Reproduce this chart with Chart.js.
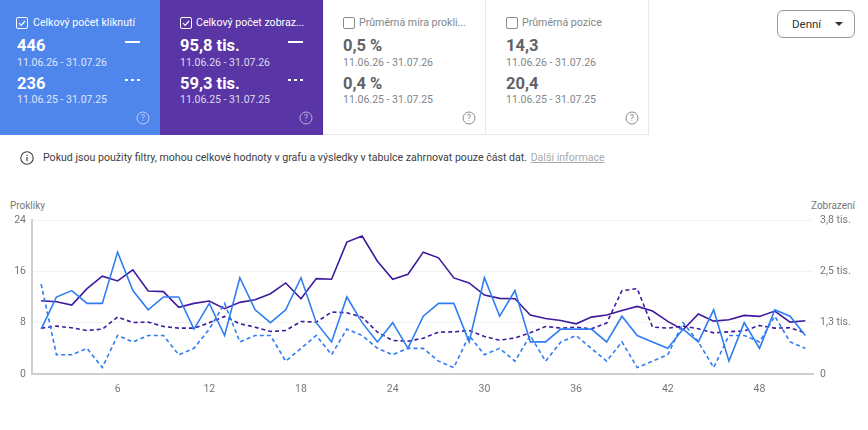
<!DOCTYPE html>
<html lang="cs">
<head>
<meta charset="utf-8">
<title>Výkon</title>
<script src="https://cdn.jsdelivr.net/npm/chart.js@4"></script>
<style>
  html, body { margin: 0; padding: 0; background: #fff; }
  body { width: 868px; height: 430px; position: relative; overflow: hidden; font-family: Roboto, sans-serif; }
  .card { position: absolute; top: 0; height: 135px; box-sizing: border-box; color: #5f6368; }
  .card.on { color: #fff; }
  .card.off { border-right: 1px solid #e8e8e8; border-bottom: 1px solid #e8e8e8; }
  .card span, .card i, .card svg { position: absolute; white-space: nowrap; font-style: normal; }
  .title { top: 14.5px; font-size: 10.6px; line-height: 16px; }
  .off .title { color: #80868b; }
  .num { font-size: 16.5px; font-weight: 700; line-height: 20px; }
  .date { font-size: 10.5px; line-height: 14px; opacity: .8; }
  .off .date { color: #80868b; opacity: 1; }
  .box { top: 17px; width: 10px; height: 10px; border: 1px solid #8a8a8a; border-radius: 2px; }
  .on .box { border-color: #fff; }
  .sw { width: 15px; height: 2px; background: #fff; }
  .sw.dash { background: repeating-linear-gradient(90deg, #fff 0 3px, transparent 3px 6px); }
  #note { position: absolute; left: 43px; top: 150px; font-size: 10.6px; line-height: 16px; color: #3c4043; white-space: nowrap; }
  #note a { color: #aaa; text-decoration: underline; margin-left: 1px; }
  #denni { position: absolute; left: 777px; top: 10px; width: 76px; height: 26px; border: 1px solid #9a9a9a; border-radius: 6px; font-size: 11.5px; line-height: 26px; color: #333; }
  #denni span { position: absolute; left: 14px; }
  #denni i { position: absolute; left: 57px; top: 11px; border: 4px solid transparent; border-top-color: #333; border-bottom: 0; }
  .axt { position: absolute; top: 200px; font-size: 10px; line-height: 12px; color: #777; }
  #wrap { position: absolute; left: 0; top: 191px; width: 868px; height: 239px; }
</style>
</head>
<body>
<div id="cards"></div>
<svg style="position:absolute;left:20px;top:151px" width="14" height="14" viewBox="0 0 14 14"><circle cx="7" cy="7" r="6.2" fill="none" stroke="#3c4043" stroke-width="1.1"/><rect x="6.4" y="6" width="1.2" height="4.2" fill="#3c4043"/><rect x="6.4" y="3.8" width="1.2" height="1.2" fill="#3c4043"/></svg>
<div id="note">Pokud jsou použity filtry, mohou celkové hodnoty v grafu a výsledky v tabulce zahrnovat pouze část dat. <a>Další informace</a></div>
<div id="denni"><span>Denní</span><i></i></div>
<div class="axt" style="left:10px">Prokliky</div>
<div class="axt" style="left:811px">Zobrazení</div>
<div id="wrap"><canvas id="chart" width="868" height="239"></canvas></div>

<script>
const days = [1,2,3,4,5,6,7,8,9,10,11,12,13,14,15,16,17,18,19,20,21,22,23,24,25,26,27,28,29,30,31,32,33,34,35,36,37,38,39,40,41,42,43,44,45,46,47,48,49,50,51]
const xTicks = [6,12,18,24,30,36,42,48]
const clickTicks = [0,8,16,24]
const viewTicks = [0,1267,2533,3800]
const viewTickLabels = ['0','1,3 tis.','2,5 tis.','3,8 tis.']

const clicksNow = [7,12,13,11,11,19,13,10,12,12,7,11,6,15,10,8,10,15,8,5,12,8,5,8,4,9,11,11,5,15,9,13,5,5,7,7,7,5,9,6,5,4,7,5,10,2,8,4,10,9,6]
const clicksPrev = [14,3,3,4,1,6,5,6,6,3,4,7,11,5,6,6,2,4,6,3,7,6,4,3,4,4,2,1,6,3,4,2,6,2,5,6,4,2,5,1,2,3,8,5,1,6,6,5,9,5,4]
const viewsNow = [1809,1784,1702,2106,2412,2296,2569,2048,2032,1644,1743,1801,1611,1768,1834,1982,2247,1858,2354,2338,3254,3403,2784,2338,2461,3007,2866,2371,2247,1949,1867,1858,1454,1371,1322,1239,1404,1454,1569,1669,1553,1297,1090,1479,1305,1338,1446,1421,1553,1280,1313]
const viewsPrev = [1132,1181,1140,1074,1107,1404,1272,1280,1173,1132,1132,1264,1421,1239,1156,1049,1074,1297,1280,1528,1512,1404,1033,826,810,884,1033,1041,1074,925,834,892,1016,1173,1132,1156,1115,1256,2057,2106,1156,1132,1181,1115,1016,1041,1066,1198,1132,1140,1016]

const cardTitles = ['Celkový počet kliknutí','Celkový počet zobraz...','Průměrná míra prokli...','Průměrná pozice']
const cardNow = ['446','95,8 tis.','0,5 %','14,3']
const cardPrev = ['236','59,3 tis.','0,4 %','20,4']
const cardLeft = [0,160,323,486]
const cardWidth = [160,163,163,163]
const cardBg = ['#4f86ec','#5935a6','#fff','#fff']
const rangeNow = '11.06.26 - 31.07.26'
const rangePrev = '11.06.25 - 31.07.25'

const helpIcon = (x, col) => `<svg style="left:${x}px;top:111px" width="14" height="14" viewBox="0 0 14 14"><circle cx="7" cy="7" r="6" fill="none" stroke="${col}" stroke-width="1"/><text x="7" y="10" font-size="9" text-anchor="middle" fill="${col}" font-family="Roboto">?</text></svg>`
const checkMark = '<svg style="left:0;top:0" width="10" height="10" viewBox="0 0 10 10"><path d="M2 5.2l2.2 2.2L8 3" fill="none" stroke="#fff" stroke-width="1.2"/></svg>'

document.getElementById('cards').innerHTML = cardTitles.map((title, i) => {
  const on = i < 2
  return `<div class="card ${on ? 'on' : 'off'}" style="left:${cardLeft[i]}px;width:${cardWidth[i]}px;background:${cardBg[i]}${i === 1 ? ';border-right:1px solid #4527a0' : ''}">
    <i class="box" style="left:${i === 0 ? 16 : 20}px">${on ? checkMark : ''}</i>
    <span class="title" style="left:${i === 0 ? 33 : 36}px">${title}</span>
    <span class="num" style="left:${i === 0 ? 17 : 20}px;top:36px">${cardNow[i]}</span>
    <span class="date" style="left:${i === 0 ? 17 : 20}px;top:56px">${rangeNow}</span>
    <span class="num" style="left:${i === 0 ? 17 : 20}px;top:74px">${cardPrev[i]}</span>
    <span class="date" style="left:${i === 0 ? 17 : 20}px;top:93px">${rangePrev}</span>
    ${on ? `<i class="sw" style="left:${i === 0 ? 125 : 128}px;top:41px"></i><i class="sw dash" style="left:${i === 0 ? 125 : 128}px;top:79px"></i>` : ''}
    ${helpIcon(i === 0 ? 136 : 139, on ? 'rgba(255,255,255,.6)' : '#8a8a8a')}
  </div>`
}).join('')

const series = (values) => values.map((v, i) => ({ x: days[i], y: v }))
const lineStyle = { borderWidth: 1.6, pointRadius: 0, tension: 0, fill: false }
const tickFont = { family: 'Roboto', size: 10.5 }

new Chart(document.getElementById('chart'), {
  type: 'line',
  data: {
    datasets: [
      { label: 'Prokliky', data: series(clicksNow), yAxisID: 'y', borderColor: '#2f7df0', ...lineStyle },
      { label: 'Prokliky (minulé)', data: series(clicksPrev), yAxisID: 'y', borderColor: '#2f7df0', borderDash: [4, 3], ...lineStyle },
      { label: 'Zobrazení', data: series(viewsNow), yAxisID: 'y1', borderColor: '#3f1a9e', ...lineStyle },
      { label: 'Zobrazení (minulé)', data: series(viewsPrev), yAxisID: 'y1', borderColor: '#3f1a9e', borderDash: [4, 3], ...lineStyle }
    ]
  },
  options: {
    responsive: false,
    animation: false,
    layout: { padding: { top: 29 } },
    plugins: { legend: { display: false }, tooltip: { enabled: false } },
    scales: {
      x: {
        type: 'linear',
        min: 0.4,
        max: 51.5,
        afterBuildTicks: (axis) => { axis.ticks = xTicks.map(v => ({ value: v })) },
        afterFit: (axis) => { axis.height = 56 },
        grid: { display: false, drawTicks: false },
        border: { color: '#cfcfcf', width: 2 },
        ticks: { color: '#777', font: tickFont, padding: 9, maxRotation: 0, autoSkip: false }
      },
      y: {
        position: 'left',
        min: 0,
        max: 24,
        afterBuildTicks: (axis) => { axis.ticks = clickTicks.map(v => ({ value: v })) },
        afterFit: (axis) => { axis.width = 32 },
        grid: { color: '#f3f3f3', drawTicks: false, lineWidth: 1 },
        border: { color: '#cfcfcf', width: 2 },
        ticks: { color: '#777', font: tickFont, padding: 6 }
      },
      y1: {
        position: 'right',
        min: 0,
        max: 3800,
        afterBuildTicks: (axis) => { axis.ticks = viewTicks.map(v => ({ value: v })) },
        afterFit: (axis) => { axis.width = 55 },
        grid: { display: false, drawTicks: false },
        border: { display: false },
        ticks: {
          color: '#777',
          font: tickFont,
          padding: 7,
          callback: (value) => viewTickLabels[viewTicks.indexOf(value)]
        }
      }
    }
  }
})
</script>
</body>
</html>
